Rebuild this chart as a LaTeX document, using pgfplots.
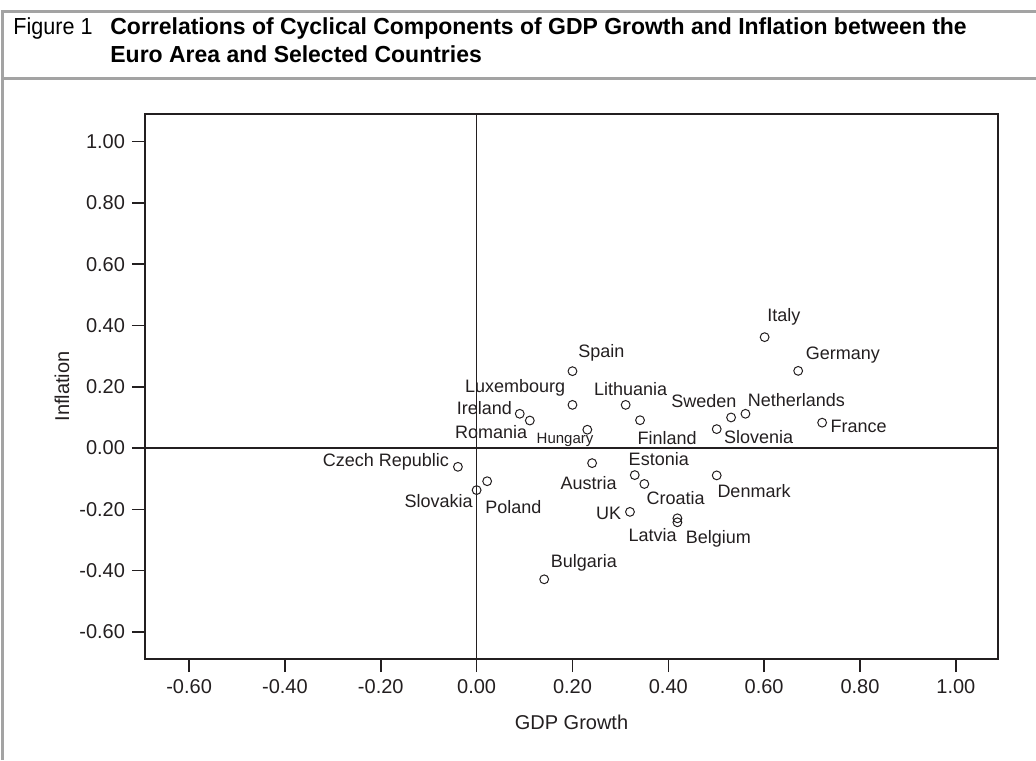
\documentclass[border=0pt]{standalone}
\usepackage{fontspec}
\setmainfont{Liberation Sans}
\newfontfamily\titlefont[FakeStretch=0.99]{Liberation Sans}
\newfontfamily\figfont[FakeStretch=0.93]{Liberation Sans}
\usepackage{pgfplots}
\usepackage{pgfplotstable}
\pgfplotsset{compat=1.18}
\definecolor{dk}{HTML}{231F20}
\definecolor{frame}{HTML}{A3A3A3}

\pgfplotstableread{
x y dx dy label
0.601 0.362 9.65 10.15 Italy
0.671 0.252 22.35 7.85 Germany
0.561 0.112 25.5 6.85 Netherlands
0.531 0.100 -13.65 8.0 Sweden
0.721 0.083 18.2 -1.65 France
0.501 0.062 21.0 -4.15 Slovenia
0.200 0.251 14.5 9.0 Spain
0.200 0.141 -28.7 8.7 Luxembourg
0.311 0.141 2.5 8.0 Lithuania
0.090 0.112 -17.7 3.0 Ireland
0.111 0.090 -19.35 -5.7 Romania
0.341 0.091 13.5 -8.85 Finland
-0.039 -0.061 -36.0 2.7 {Czech Republic}
0.330 -0.088 12.0 7.85 Estonia
0.241 -0.049 -1.8 -10.15 Austria
0.350 -0.117 15.7 -7.15 Croatia
0.022 -0.108 13.15 -13.15 Poland
0.000 -0.137 -19.0 -5.5 Slovakia
0.501 -0.089 18.65 -7.7 Denmark
0.320 -0.208 -10.65 -0.8 UK
0.419 -0.229 -12.35 -8.5 Latvia
0.419 -0.242 20.5 -8.5 Belgium
0.141 -0.428 19.85 8.0 Bulgaria
}\maindata

\pgfplotstableread{
x y dx dy label
0.231 0.060 -11.15 -5.15 Hungary
}\smalldata

\begin{document}
\begin{tikzpicture}
\path[use as bounding box] (0,0) rectangle (518pt,380pt);
% frame
\draw[frame, line width=1.5pt] (1pt,0) -- (1pt,374pt) -- (518pt,374pt);
\draw[frame, line width=1.5pt] (1pt,340.5pt) -- (518pt,340.5pt);
% title
\node[anchor=base west, inner sep=0pt, text=black] at (6.5pt,362.5pt) {\figfont\fontsize{11.6}{13}\selectfont Figure 1};
\node[anchor=base west, inner sep=0pt, text=black] at (55pt,362.5pt) {\titlefont\bfseries\fontsize{11.6}{13}\selectfont Correlations of Cyclical Components of GDP Growth and Inflation between the};
\node[anchor=base west, inner sep=0pt, text=black] at (55pt,348.5pt) {\titlefont\bfseries\fontsize{11.6}{13}\selectfont Euro Area and Selected Countries};

\begin{axis}[
  at={(72.5pt,50.5pt)}, anchor=south west,
  width=426.5pt, height=272.5pt, scale only axis,
  xmin=-0.692, xmax=1.088, ymin=-0.688, ymax=1.09,
  xtick={-0.6,-0.4,...,1.01}, ytick={-0.6,-0.4,...,1.01},
  tick align=outside, tick pos=left,
  major tick length=6.5pt,
  axis line style={dk, line width=0.75pt},
  every tick/.style={dk, line width=0.75pt},
  ticklabel style={font=\fontsize{10}{12}\selectfont, text=dk},
  /pgf/number format/assume math mode=true,
  xticklabel style={/pgf/number format/.cd, fixed, fixed zerofill, precision=2},
  yticklabel style={/pgf/number format/.cd, fixed, fixed zerofill, precision=2},
  xlabel={GDP Growth}, ylabel={Inflation},
  label style={font=\fontsize{10}{12}\selectfont, text=dk},
  xlabel style={at={(axis description cs:0.5,-0.1156)}, anchor=center},
  ylabel style={at={(axis description cs:-0.0973,0.5)}, anchor=center},
  clip=false,
]
\draw[dk, line width=0.8pt] (axis cs:0,-0.688) -- (axis cs:0,1.09);
\draw[dk, line width=0.8pt] (axis cs:-0.692,0) -- (axis cs:1.088,0);
\addplot[only marks, mark=o, mark size=2.2pt, color=dk, mark options={line width=0.5pt},
  point meta=explicit symbolic,
  visualization depends on={\thisrow{dx} \as \ddx},
  visualization depends on={\thisrow{dy} \as \ddy},
  nodes near coords,
  nodes near coords style={anchor=center, xshift={\ddx pt}, yshift={\ddy pt}, font=\fontsize{9}{10}\selectfont, inner sep=0pt, text=dk},
] table[x=x, y=y, meta=label] {\maindata};
\addplot[only marks, mark=o, mark size=2.2pt, color=dk, mark options={line width=0.5pt},
  point meta=explicit symbolic,
  visualization depends on={\thisrow{dx} \as \ddx},
  visualization depends on={\thisrow{dy} \as \ddy},
  nodes near coords,
  nodes near coords style={anchor=center, xshift={\ddx pt}, yshift={\ddy pt}, font=\fontsize{7.5}{9}\selectfont, inner sep=0pt, text=dk},
] table[x=x, y=y, meta=label] {\smalldata};
\end{axis}
\end{tikzpicture}
\end{document}
